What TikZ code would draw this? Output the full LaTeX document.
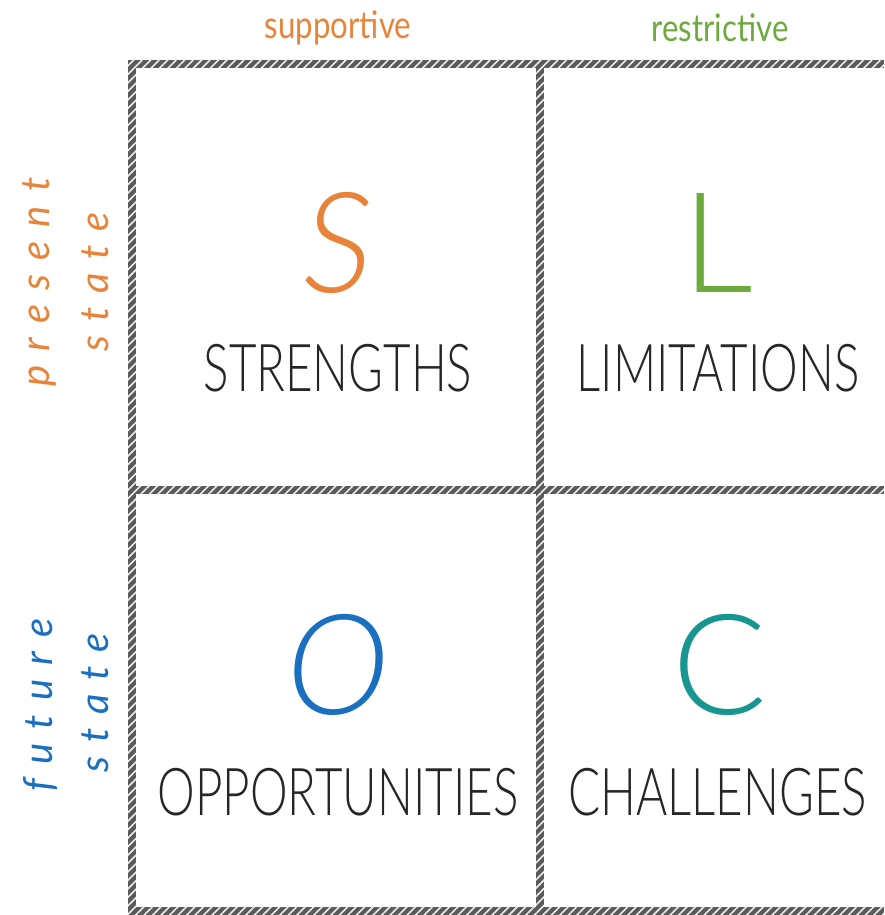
\documentclass[tikz,border=0pt]{standalone}
\usepackage{fontspec}
\setmainfont{Lato}
\newfontfamily\thinfont{Lato Light}
\usetikzlibrary{patterns.meta}
\definecolor{sorange}{HTML}{E8843A}
\definecolor{lgreen}{HTML}{6DAA3D}
\definecolor{oblue}{HTML}{1A6FC0}
\definecolor{cteal}{HTML}{16968E}
\definecolor{hatchdark}{HTML}{5A5A5A}
\newcommand{\ls}{\hspace{14pt}}
\tikzset{
  hatchbar/.style={fill=hatchdark, postaction={pattern={Lines[angle=45,distance=6pt,line width=1.6pt]}, pattern color=white!85!gray}},
  biglet/.style={font=\thinfont\fontsize{140}{140}\selectfont\itshape, inner sep=0pt},
  bigup/.style={font=\thinfont\fontsize{140}{140}\selectfont, inner sep=0pt},
  word/.style={font=\thinfont\fontsize{66}{66}\selectfont, xscale=0.72, inner sep=0pt, text=black!85},
  colhead/.style={font=\fontsize{38}{38}\selectfont, xscale=0.82, inner sep=0pt},
  rowhead/.style={font=\itshape\fontsize{40}{40}\selectfont, rotate=90, inner sep=0pt}
}
\begin{document}
\begin{tikzpicture}[x=1pt,y=-1pt]
\useasboundingbox (0,0) rectangle (884,915);
% hatched grid lines
\path[hatchbar] (128,60) rectangle (136,915);
\path[hatchbar] (128,60) rectangle (884,68);
\path[hatchbar] (536,60) rectangle (544,915);
\path[hatchbar] (128,486) rectangle (884,494);
\path[hatchbar] (128,907) rectangle (884,915);
% column headings
\node[colhead, text=sorange] (sup) at (338,28) {supportive};
\node[colhead, text=lgreen] (res) at (720,28) {restrictive};
% row headings
\node[rowhead, text=sorange] (pres) at (40,282) {p\ls r\ls e\ls s\ls e\ls n\ls t};
\node[rowhead, text=sorange] (pst) at (95,282) {s\ls t\ls a\ls t\ls e};
\node[rowhead, text=oblue] (fut) at (40,705) {f\ls u\ls t\ls u\ls r\ls e};
\node[rowhead, text=oblue] (fst) at (95,703) {s\ls t\ls a\ls t\ls e};
% big letters
\node[biglet, text=sorange] (S) at (338,243) {S};
\node[bigup, text=lgreen] (L) at (718,243) {L};
\node[biglet, text=oblue] (O) at (338,665) {O};
\node[bigup, text=cteal] (C) at (720,665) {C};
% words
\node[word] (str) at (338,368) {STRENGTHS};
\node[word] (lim) at (718,368) {LIMITATIONS};
\node[word] (opp) at (338,792) {OPPORTUNITIES};
\node[word] (cha) at (718,792) {CHALLENGES};
\end{tikzpicture}
\end{document}
